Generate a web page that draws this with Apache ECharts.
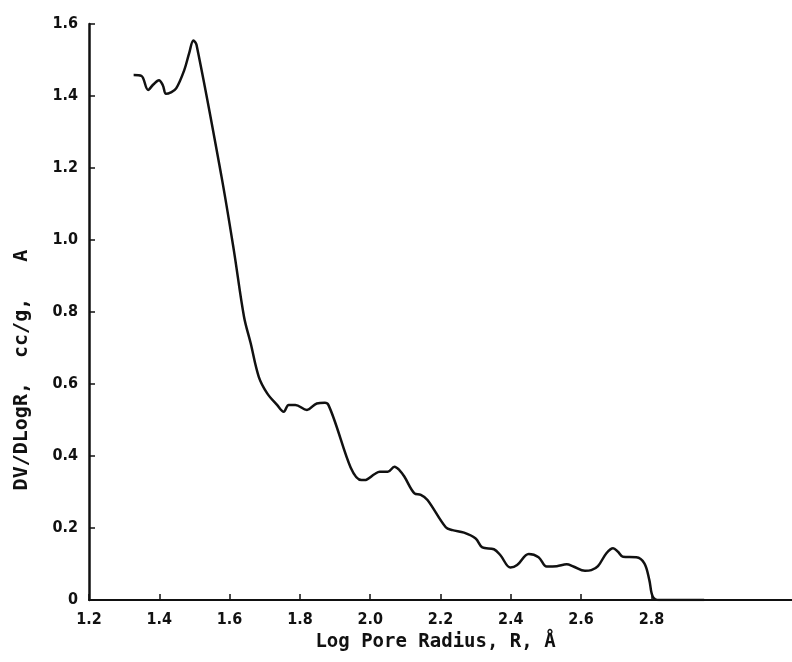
<!DOCTYPE html>
<html><head><meta charset="utf-8">
<script src="https://cdn.jsdelivr.net/npm/echarts@6/dist/echarts.min.js"></script>
<style>html,body{margin:0;padding:0;background:#fff}#c{width:792px;height:662px}</style>
</head><body><div id="c"></div>
<script>
const logR = [1.327,1.349,1.368,1.383,1.399,1.410,1.419,1.433,1.448,1.471,1.485,1.497,1.506,1.577,1.612,1.641,1.660,1.683,1.707,1.735,1.754,1.768,1.787,1.820,1.848,1.871,1.881,1.975,1.984,2.013,2.027,2.050,2.069,2.083,2.097,2.126,2.144,2.163,2.215,2.234,2.267,2.300,2.319,2.352,2.370,2.399,2.418,2.451,2.479,2.502,2.531,2.559,2.578,2.611,2.629,2.648,2.672,2.691,2.705,2.719,2.757,2.780,2.794,2.804,2.822,2.860,2.950];
const dvdlogR = [1.458,1.456,1.417,1.432,1.444,1.430,1.406,1.410,1.421,1.472,1.519,1.554,1.542,1.176,0.972,0.787,0.713,0.620,0.574,0.542,0.523,0.542,0.542,0.528,0.546,0.548,0.542,0.333,0.333,0.350,0.356,0.356,0.370,0.361,0.343,0.296,0.292,0.278,0.202,0.194,0.187,0.171,0.146,0.141,0.125,0.090,0.097,0.128,0.119,0.093,0.094,0.099,0.093,0.081,0.083,0.094,0.130,0.144,0.134,0.120,0.119,0.102,0.056,0.009,0.0,0.0,0.0];
const xTickLabels = [1.2,1.4,1.6,1.8,2.0,2.2,2.4,2.6,2.8];
const yTickLabels = [0,0.2,0.4,0.6,0.8,1.0,1.2,1.4,1.6];
const xTitle = 'Log Pore Radius, R, Å';
const yTitle = 'DV/DLogR,  cc/g,   A';

const chart = echarts.init(document.getElementById('c'), null, {renderer:'canvas'});
const lab = {color:'#111', fontFamily:'DejaVu Sans Condensed', fontWeight:'bold', fontSize:16};
chart.setOption({
  animation:false,
  backgroundColor:'#fff',
  grid:{left:89, top:24, width:708, height:576},
  xAxis:{
    type:'value', min:1.2, max:3.2, interval:0.2,
    axisLine:{lineStyle:{color:'#111', width:2}},
    axisTick:{inside:true, length:6, customValues:xTickLabels, lineStyle:{color:'#111', width:1.5}},
    axisLabel:Object.assign({margin:12, customValues:xTickLabels, formatter:v=>v.toFixed(1)}, lab),
    splitLine:{show:false},
    name:xTitle, nameLocation:'middle', nameGap:33,
    nameTextStyle:{color:'#111', fontFamily:'DejaVu Sans Mono', fontWeight:'bold', fontSize:19, padding:[0,0,0,-10]}
  },
  yAxis:{
    type:'value', min:0, max:1.6, interval:0.2,
    axisLine:{show:true, lineStyle:{color:'#111', width:2.5}},
    axisTick:{show:true, inside:true, length:6, lineStyle:{color:'#111', width:1.5}},
    axisLabel:Object.assign({margin:11, customValues:yTickLabels, formatter:v=>v===0?'0':v.toFixed(1)}, lab),
    splitLine:{show:false}
  },
  graphic:[{
    type:'text', x:22, y:370, rotation:Math.PI/2,
    style:{text:yTitle, fill:'#111', font:'bold 20px "DejaVu Sans Mono"', align:'center', verticalAlign:'middle'}
  }],
  series:[{
    type:'line', data:logR.map((x,i)=>[x,dvdlogR[i]]),
    smooth:0.35, showSymbol:false,
    lineStyle:{color:'#111', width:2.5}
  }]
});
</script></body></html>
